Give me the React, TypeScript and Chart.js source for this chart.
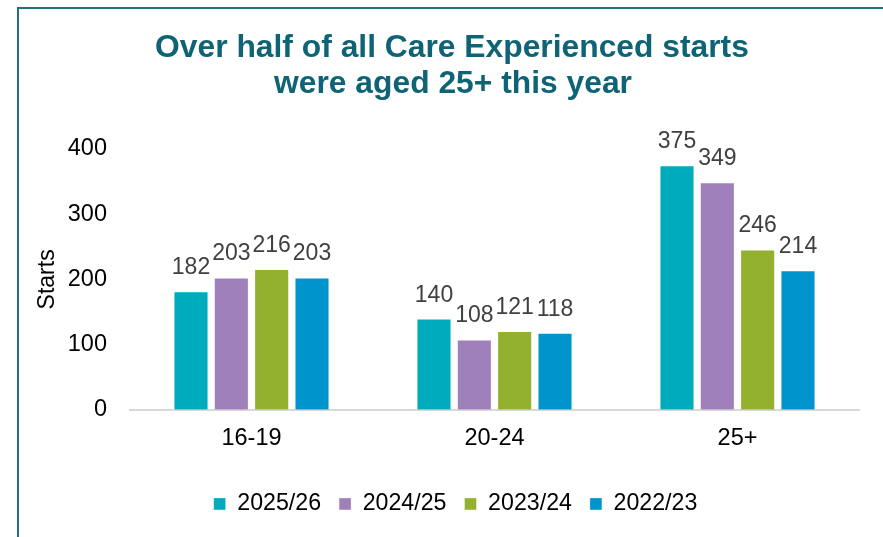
import React, { useEffect, useRef } from "react";
import { Chart, registerables } from "chart.js";

Chart.register(...registerables);

const categories = ["16-19", "20-24", "25+"];
const seriesNames = ["2025/26", "2024/25", "2023/24", "2022/23"];
const values2025 = [182, 140, 375];
const values2024 = [203, 108, 349];
const values2023 = [216, 121, 246];
const values2022 = [203, 118, 214];
const seriesColors = ["#00ABBB", "#9F80BB", "#93B02E", "#0094CC"];
const yMin = 0;
const yMax = 400;
const yStep = 100;
const titleLines = ["Over half of all Care Experienced starts", "were aged 25+ this year"];
const yAxisTitle = "Starts";

const FONT = "'Liberation Sans', Arial, sans-serif";

const titlePlugin = {
  id: "customTitle",
  afterDraw(chart: any) {
    const ctx = chart.ctx;
    ctx.save();
    ctx.font = `bold 31.8px ${FONT}`;
    ctx.fillStyle = "#0E6474";
    ctx.textAlign = "center";
    ctx.textBaseline = "alphabetic";
    ctx.fillText(titleLines[0], 452, 56.5);
    ctx.fillText(titleLines[1], 453, 93);
    ctx.restore();
  },
};

const dataLabelPlugin = {
  id: "dataLabels",
  afterDatasetsDraw(chart: any) {
    const ctx = chart.ctx;
    ctx.save();
    ctx.font = `23px ${FONT}`;
    ctx.fillStyle = "#404040";
    ctx.textAlign = "center";
    ctx.textBaseline = "alphabetic";
    chart.data.datasets.forEach((ds: any, i: number) => {
      const meta = chart.getDatasetMeta(i);
      meta.data.forEach((el: any, j: number) => {
        ctx.fillText(String(ds.data[j]), el.x, el.y - 17);
      });
    });
    ctx.restore();
  },
};

export default function App() {
  const ref = useRef<HTMLCanvasElement | null>(null);

  useEffect(() => {
    if (!ref.current) return;
    const seriesValues = [values2025, values2024, values2023, values2022];
    const chart = new Chart(ref.current, {
      type: "bar",
      data: {
        labels: categories,
        datasets: seriesNames.map((name, i) => ({
          label: name,
          data: seriesValues[i],
          backgroundColor: seriesColors[i],
          borderColor: "rgba(255,255,255,0.35)",
          borderWidth: 1,
          categoryPercentage: 0.664,
          barPercentage: 0.87,
        })),
      },
      options: {
        responsive: false,
        animation: false,
        devicePixelRatio: 1,
        layout: { padding: { left: 52, right: 24, top: 149, bottom: 11.5 } },
        plugins: {
          title: { display: false },
          tooltip: { enabled: false },
          legend: {
            position: "bottom",
            labels: {
              boxWidth: 12,
              boxHeight: 12,
              padding: 18,
              color: "#000",
              font: { size: 23.2, family: FONT },
            },
          },
        },
        scales: {
          x: {
            grid: { display: false, drawTicks: false },
            border: { display: true, color: "#D9D9D9", width: 2 },
            ticks: { padding: 15, color: "#000", font: { size: 23.5, family: FONT } },
            afterFit: (s: any) => {
              s.height = 64.5;
            },
          },
          y: {
            min: yMin,
            max: yMax,
            grid: { display: false, drawTicks: false },
            border: { display: false },
            ticks: { stepSize: yStep, padding: 23, color: "#000", font: { size: 23.5, family: FONT } },
            title: {
              display: true,
              text: yAxisTitle,
              color: "#000",
              font: { size: 23, family: FONT },
              padding: { top: -18.5, bottom: 0 },
            },
            afterFit: (s: any) => {
              s.width = 78;
            },
          },
        },
      },
      plugins: [titlePlugin, dataLabelPlugin],
    });
    return () => chart.destroy();
  }, []);

  return (
    <div style={{ position: "fixed", left: 0, top: 0, width: 883, height: 537, background: "#fff", overflow: "hidden" }}>
      <div
        style={{
          position: "absolute",
          left: 17,
          top: 7,
          right: 0,
          bottom: 0,
          borderLeft: "2px solid #20707F",
          borderTop: "2px solid #20707F",
        }}
      />
      <canvas ref={ref} width={883} height={537} style={{ position: "absolute", left: 0, top: 0, display: "block" }} />
    </div>
  );
}
